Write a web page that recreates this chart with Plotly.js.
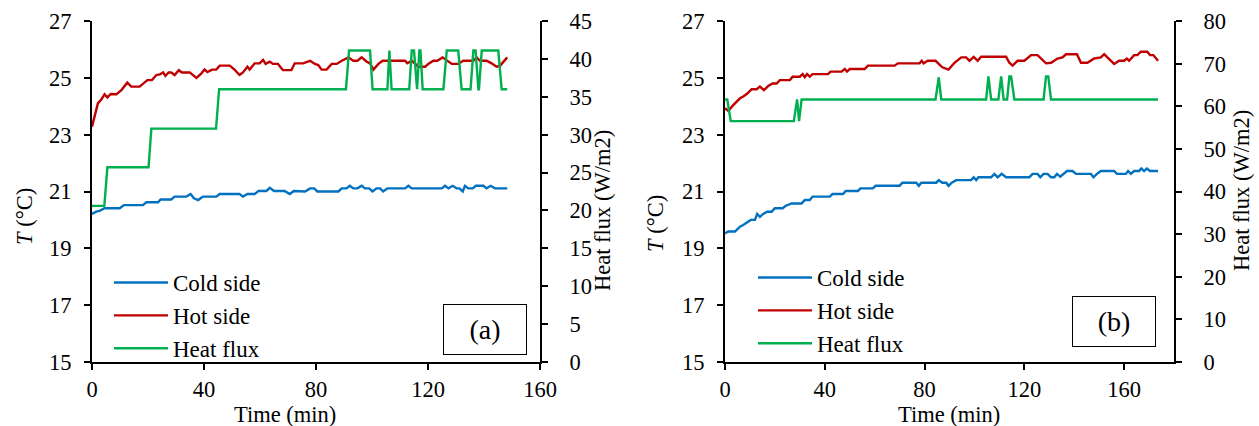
<!DOCTYPE html>
<html>
<head>
<meta charset="utf-8">
<script src="https://cdn.plot.ly/plotly-3.0.1.min.js"></script>
<style>html,body{margin:0;padding:0;background:#fff;}#chart{width:1259px;height:426px;}</style>
</head>
<body>
<div id="chart"></div>
<script>
// ---------- Data ----------
// Panel (a)
const tA_cold = [0,1.5,2.7,4.5,9.9,11.4,18.2,19.4,23.6,24.5,28.3,29.5,33.7,35.2,36.4,37.9,39.6,44.4,45.6,52.7,53.9,55.5,58.1,59.5,62.3,63.5,65.0,68.8,70.6,72.1,76.1,77.9,79.3,80.5,88.0,89.2,90.9,92.1,93.3,94.8,96.3,97.5,99.0,100.2,101.6,102.9,104.0,105.5,111.8,113.0,114.2,124.9,126.1,127.3,128.8,130.2,131.2,132.4,133.2,134.4,136.0,137.1,139.8,140.9,142.4,143.9,148.3];
const coldA = [20.21,20.29,20.32,20.41,20.41,20.52,20.52,20.62,20.62,20.72,20.72,20.82,20.82,20.91,20.76,20.70,20.82,20.82,20.91,20.91,20.82,20.91,20.91,21.02,21.02,21.13,21.02,21.02,20.91,21.02,21.0,21.11,21.11,21.0,21.0,21.11,21.11,21.2,21.11,21.11,21.2,21.11,21.11,21.0,21.11,21.11,21.0,21.11,21.11,21.2,21.11,21.11,21.2,21.11,21.2,21.11,21.11,21.0,21.2,21.11,21.11,21.2,21.2,21.11,21.2,21.11,21.11];

const tA_hot = [0,2.1,3.3,4.5,5.5,6.7,8.7,10.5,12.6,14.0,17.0,18.2,19.8,21.4,23.0,24.2,25.4,26.2,27.4,28.3,29.5,31.0,32.1,34.9,37.3,39.0,40.2,41.2,42.9,44.4,45.6,49.2,50.9,52.7,53.9,55.5,56.3,58.1,59.9,61.1,62.0,63.5,64.6,66.4,68.2,71.2,72.4,75.4,77.9,79.6,80.8,82.0,83.8,85.6,87.4,89.2,91.6,93.3,94.8,96.3,98.1,99.3,100.5,102.3,103.8,111.8,112.6,114.2,115.4,116.6,119.0,120.1,121.9,123.3,125.2,126.7,128.5,130.8,132.6,136.2,137.4,138.6,140.9,142.7,144.5,145.7,147.1,148.3];
const hotA = [23.28,24.1,24.24,24.42,24.31,24.43,24.42,24.57,24.83,24.69,24.69,24.8,24.92,24.92,25.1,25.12,25.19,25.07,25.19,25.19,25.1,25.27,25.19,25.19,25.0,25.15,25.29,25.2,25.29,25.29,25.43,25.43,25.29,25.1,25.19,25.39,25.29,25.51,25.51,25.63,25.49,25.57,25.49,25.49,25.27,25.27,25.51,25.51,25.6,25.49,25.45,25.29,25.29,25.49,25.49,25.6,25.72,25.6,25.6,25.72,25.57,25.51,25.29,25.49,25.6,25.6,25.51,25.6,25.49,25.39,25.39,25.49,25.6,25.6,25.72,25.6,25.49,25.49,25.6,25.6,25.72,25.6,25.6,25.51,25.39,25.42,25.6,25.72];

const tA_flux = [0,4.4,5.5,20.2,21.2,44.3,45.4,90.7,91.8,99.3,100.2,105.5,106.2,107.0,113.3,114.2,115.0,115.9,116.1,116.9,117.3,118.1,125.5,126.7,130.8,132.0,135.2,136.2,137.0,138.0,138.2,139.2,145.1,146.3,148.3];
const fluxA = [20.6,20.6,25.7,25.7,30.8,30.8,36.0,36.0,41.1,41.1,36.0,36.0,41.1,36.0,36.0,41.1,41.1,36.0,36.0,41.1,41.1,36.0,36.0,41.1,41.1,36.0,36.0,41.1,41.1,36.0,36.0,41.1,41.1,36.0,36.0];

// Panel (b)
const tB_cold = [0,1.3,4.0,6.0,7.3,8.7,10.3,12.0,12.9,14.0,15.3,16.9,18.7,20.0,23.1,24.4,26.7,30.7,32.0,34.0,35.1,42.0,43.1,47.3,48.4,53.3,54.3,59.3,60.4,70.0,71.1,76.7,77.7,78.7,84.7,85.7,87.1,88.7,89.6,90.9,92.7,98.7,99.7,100.7,101.6,106.7,108.0,109.3,110.9,112.7,122.0,123.3,125.3,126.4,127.7,129.3,130.7,132.0,133.1,134.4,135.7,137.1,139.3,140.7,146.7,147.7,149.1,150.7,156.0,157.1,160.7,161.6,162.7,164.0,166.0,166.9,168.0,169.1,170.4,173.6];
const coldB = [19.53,19.59,19.59,19.76,19.82,19.9,20.0,20.0,20.21,20.11,20.21,20.29,20.29,20.41,20.41,20.5,20.58,20.58,20.7,20.7,20.82,20.82,20.91,20.91,21.02,21.02,21.11,21.11,21.2,21.2,21.31,21.31,21.2,21.31,21.31,21.4,21.31,21.31,21.2,21.31,21.4,21.4,21.5,21.4,21.5,21.5,21.62,21.5,21.62,21.5,21.5,21.62,21.62,21.5,21.62,21.62,21.5,21.5,21.62,21.52,21.62,21.72,21.72,21.62,21.62,21.5,21.62,21.72,21.72,21.62,21.62,21.72,21.62,21.72,21.72,21.81,21.72,21.81,21.72,21.72];

const tB_hot = [0,1.3,3.3,6.0,7.3,8.7,10.7,12.7,14.0,15.6,17.3,19.1,20.7,22.0,26.0,27.1,30.0,31.1,32.0,32.9,34.0,35.1,41.3,42.3,46.7,48.0,48.9,50.0,56.0,57.3,68.0,69.3,78.0,78.9,79.6,81.3,84.4,87.1,89.6,92.0,94.7,96.7,98.0,99.7,101.3,102.7,112.7,114.0,115.3,117.3,120.0,122.7,125.3,128.7,130.7,133.3,135.3,136.7,141.1,142.7,145.3,148.0,150.7,152.0,153.3,156.0,158.0,160.0,161.1,162.0,164.0,165.3,166.7,169.3,170.4,171.7,173.6];
const hotB = [23.93,23.84,24.04,24.28,24.34,24.43,24.6,24.6,24.69,24.57,24.71,24.8,24.8,24.92,24.92,25.04,25.04,25.13,25.02,25.13,25.04,25.13,25.13,25.22,25.22,25.31,25.22,25.31,25.31,25.43,25.43,25.51,25.51,25.6,25.51,25.6,25.6,25.37,25.29,25.53,25.72,25.72,25.6,25.74,25.6,25.74,25.74,25.53,25.43,25.6,25.6,25.8,25.8,25.51,25.53,25.68,25.72,25.83,25.83,25.53,25.53,25.68,25.72,25.83,25.72,25.49,25.6,25.6,25.68,25.6,25.8,25.8,25.92,25.92,25.8,25.8,25.6];

const tB_flux = [0,0.9,2.3,27.6,28.9,29.7,30.7,84.4,85.7,86.7,104.7,105.6,106.7,109.6,110.7,111.7,113.1,114.0,114.7,116.0,127.7,128.7,129.6,130.7,173.6];
const fluxB = [61.6,61.6,56.5,56.5,61.6,56.5,61.6,61.6,66.8,61.6,61.6,67.0,61.6,61.6,67.0,61.6,61.6,67.0,67.0,61.6,61.6,67.0,67.0,61.6,61.6];

const seriesNames = ["Cold side", "Hot side", "Heat flux"];
const panelLabels = ["(a)", "(b)"];
const xTitle = "Time (min)";
const yTitle = "<i>T</i> (°C)";
const y2Title = "Heat flux (W/m2)";

// ---------- Styling ----------
const C_COLD = "#0070C0", C_HOT = "#C00000", C_FLUX = "#00B050";
const FONT = "Liberation Serif, 'Times New Roman', Times, serif";
const LW = 2.4;

function tr(x, y, name, color, xa, ya, leg) {
  return {x: x, y: y, name: name, type: "scatter", mode: "lines",
          line: {color: color, width: LW}, xaxis: xa, yaxis: ya, legend: leg,
          hoverinfo: "skip"};
}

const data = [
  tr(tA_cold, coldA, seriesNames[0], C_COLD, "x", "y", "legend"),
  tr(tA_hot, hotA, seriesNames[1], C_HOT, "x", "y", "legend"),
  tr(tA_flux, fluxA, seriesNames[2], C_FLUX, "x", "y2", "legend"),
  tr(tB_cold, coldB, seriesNames[0], C_COLD, "x2", "y3", "legend2"),
  tr(tB_hot, hotB, seriesNames[1], C_HOT, "x2", "y3", "legend2"),
  tr(tB_flux, fluxB, seriesNames[2], C_FLUX, "x2", "y4", "legend2")
];

const W = 1259, H = 426;
const px = v => v / W, py = v => 1 - v / H;
const yDom = [py(362), py(21)];

function ax(extra) {
  return Object.assign({
    showline: true, linewidth: 2, linecolor: "#000", showgrid: false, zeroline: false,
    ticks: "outside", ticklen: 6, tickwidth: 2, tickcolor: "#000",
    ticklabelstandoff: 8, fixedrange: true,
    tickfont: {family: FONT, size: 22.5, color: "#000"}
  }, extra);
}

const legBase = {
  bgcolor: "rgba(0,0,0,0)", borderwidth: 0, font: {family: FONT, size: 23, color: "#000"},
  xanchor: "left", yanchor: "top", tracegroupgap: 0, itemwidth: 54
};

function ann(text, x, y, angle, size) {
  return {text: text, xref: "paper", yref: "paper", x: px(x), y: py(y), showarrow: false,
          xanchor: "center", yanchor: "middle", textangle: angle || 0,
          font: {family: FONT, size: size || 22.5, color: "#000"}};
}

const layout = {
  width: W, height: H,
  margin: {l: 0, r: 0, t: 0, b: 0},
  paper_bgcolor: "#fff", plot_bgcolor: "#fff",
  font: {family: FONT, size: 22.5, color: "#000"},
  showlegend: true,
  xaxis: ax({domain: [px(92), px(540)], range: [0, 160], tick0: 0, dtick: 40, anchor: "y", ticklabelstandoff: 0}),
  yaxis: ax({domain: yDom, range: [15, 27], tick0: 15, dtick: 2, anchor: "x"}),
  yaxis2: ax({range: [0, 45], tick0: 0, dtick: 5, overlaying: "y", side: "right", anchor: "x", ticklabelstandoff: 17}),
  xaxis2: ax({domain: [px(725), px(1174)], range: [0, 180], tick0: 0, dtick: 40, anchor: "y3", ticklabelstandoff: 0}),
  yaxis3: ax({domain: yDom, range: [15, 27], tick0: 15, dtick: 2, anchor: "x2"}),
  yaxis4: ax({range: [0, 80], tick0: 0, dtick: 10, overlaying: "y3", side: "right", anchor: "x2", ticklabelstandoff: 17}),
  legend: Object.assign({}, legBase, {x: px(109), y: py(261)}),
  legend2: Object.assign({}, legBase, {x: px(753), y: py(256)}),
  annotations: [
    ann(yTitle, 24, 217, -90),
    ann(y2Title, 603, 211, -90),
    ann(xTitle, 285, 414, 0),
    ann(yTitle, 655, 224, -90),
    ann(y2Title, 1242, 191, -90),
    ann(xTitle, 949, 414, 0),
    Object.assign(ann(panelLabels[0], 485.3, 329.7, 0, 28),
      {bordercolor: "#000", borderwidth: 1, borderpad: 1, width: 80, height: 47}),
    Object.assign(ann(panelLabels[1], 1114.2, 321.2, 0, 28),
      {bordercolor: "#000", borderwidth: 1, borderpad: 1, width: 80, height: 47})
  ]
};

Plotly.newPlot("chart", data, layout, {displayModeBar: false, staticPlot: true});
</script>
</body>
</html>
